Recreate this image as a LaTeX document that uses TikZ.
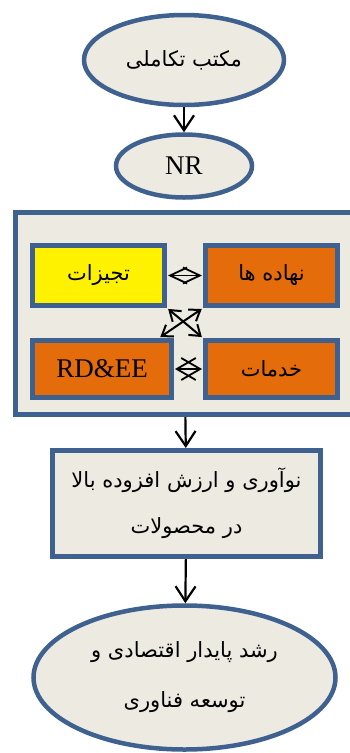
\documentclass[tikz,border=0pt]{standalone}
\usepackage{fontspec}
\setmainfont{Liberation Serif}
\newfontfamily\farsi[Script=Arabic]{DejaVu Sans}
\TeXXeTstate=1
\usepackage{tikz}
\usetikzlibrary{arrows.meta,shapes}
\usetikzlibrary{calc}
\definecolor{edgeblue}{HTML}{3F6190}
\definecolor{paper}{HTML}{ECEAE1}
\definecolor{burnt}{HTML}{E46C0A}

\begin{document}
\begin{tikzpicture}[x=1pt,y=-1pt,>={Straight Barb[length=15pt,width=20pt]},
        oval/.style={ellipse,draw=edgeblue,fill=paper,line width=4.5pt,inner sep=0},
        panel/.style={rectangle,draw=edgeblue,line width=5pt,inner sep=0},
        fa/.style={font=\fontsize{21}{46}\selectfont\farsi},
        en/.style={font=\fontsize{27}{30}\selectfont},
        flow/.style={->,line width=2.2pt},
        link/.style={{Straight Barb[length=17pt,width=16pt]}-{Straight Barb[length=17pt,width=16pt]},line width=1.8pt},
        linkx/.style={{Straight Barb[length=19pt,width=22pt]}-{Straight Barb[length=19pt,width=22pt]},line width=1.8pt},
        cross/.style={{Straight Barb[length=10pt,width=14pt]}-{Straight Barb[length=10pt,width=14pt]},line width=2pt}]
        \useasboundingbox (0,0) rectangle (350,753);
        \node[oval,fa,minimum width=200pt,minimum height=90pt] (mk) at (184,60)
          {\beginR مکتب تکاملی\endR};
        \node[oval,en,minimum width=136pt,minimum height=63pt] (nr) [below of=mk,node distance=106pt] {NR};
        \node[panel,fill=paper,minimum width=337pt,minimum height=202pt] (hub) [below of=nr,node distance=147.5pt] {};
        \node[panel,fa,fill=yellow,minimum width=132pt,minimum height=60pt] (taj) at (98.5,275.5)
          {\beginR تجیزات\endR};
        \node[panel,fa,fill=burnt,minimum width=132pt,minimum height=60pt] (nah) [right of=taj,node distance=173pt]
          {\beginR نهاده ها\endR};
        \node[panel,en,fill=burnt,minimum width=139pt,minimum height=57pt] (rdee) [below of=taj,node distance=93.5pt,xshift=3.5pt]
          {RD\&EE};
        \node[panel,fa,fill=burnt,minimum width=132pt,minimum height=57pt] (kh) [below of=nah,node distance=93.5pt]
          {\beginR خدمات\endR};
        \node[panel,fa,fill=paper,minimum width=268pt,minimum height=106pt,align=center] (out) [below of=hub,node distance=190pt,xshift=2.5pt]
          {\beginR نوآوری و ارزش افزوده بالا\endR\\ \beginR در محصولات\endR};
        \node[oval,font=\fontsize{21}{50}\selectfont\farsi,minimum width=302pt,minimum height=144pt,align=center] (goal) [below of=out,node distance=174pt,xshift=-2pt]
          {\beginR رشد پایدار اقتصادی و\endR\\ \beginR توسعه فناوری\endR};
        \path
          (mk) edge[flow] (nr)
          (hub) edge[flow] (out)
          (out) edge[flow] (goal)
          (taj.east) edge[link,shorten <=1pt,shorten >=1pt] (nah.west)
          (rdee.east) edge[linkx,shorten <=1pt,shorten >=1pt] (kh.west)
          (taj.south east) edge[cross,shorten <=1.5pt,shorten >=1.5pt] (kh.north west)
          (nah.south west) edge[cross,shorten <=1.5pt,shorten >=1.5pt] ([xshift=-15pt]rdee.north east)
          ;
      \end{tikzpicture}
\end{document}
